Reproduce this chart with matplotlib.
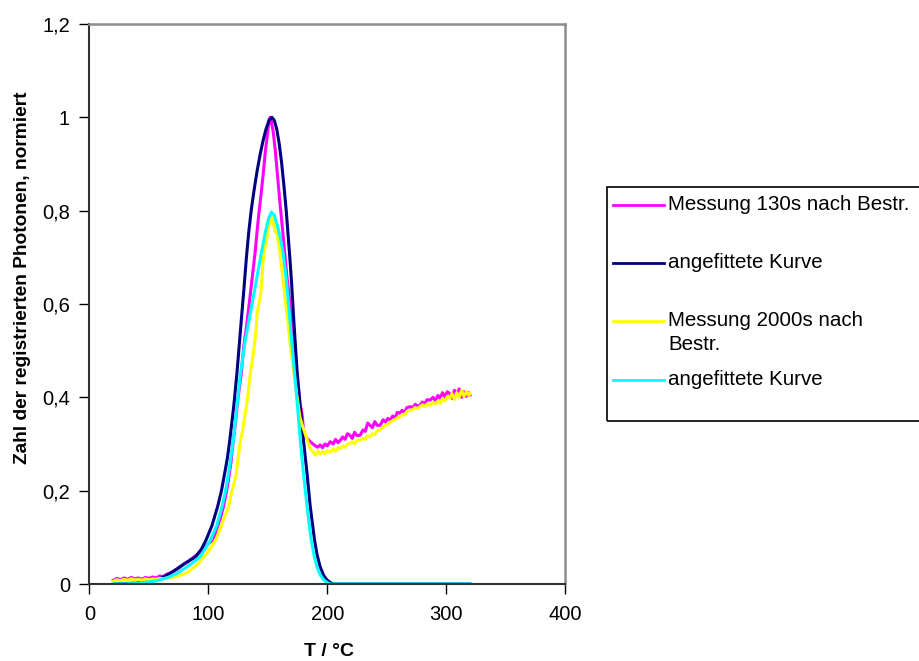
import matplotlib
matplotlib.use("Agg")
import matplotlib.pyplot as plt
from matplotlib.lines import Line2D
from matplotlib.patches import Rectangle
from matplotlib.ticker import FuncFormatter

plt.rcParams['font.family'] = ['Liberation Sans', 'DejaVu Sans']

# measurement 130 s after irradiation (magenta)
t_m130 = [20, 23, 26, 29, 32, 35, 38, 41, 44, 47, 50, 53, 56, 59, 62, 65, 68, 71, 74, 77,
          80, 83, 86, 89, 92, 95, 98, 101, 104.5, 107, 110, 112.7, 115, 117, 119, 121, 123, 125,
          127.7, 129.7, 132, 134.7, 137, 139.5, 141.5, 143.7, 146, 148, 150, 151, 152, 153,
          154.5, 156.3, 158, 160, 162, 164, 166, 168.3, 170, 171.7, 174, 176, 177, 178, 179,
          180, 181.5, 183, 185.7, 188, 190, 192, 194, 196, 198, 200, 202.5, 205, 207, 209,
          211, 213, 215, 217, 219, 221, 223, 225, 227.7, 230, 232, 234, 236, 238, 240, 242,
          244.5, 247, 249, 251, 253, 255, 257, 259, 261, 263, 265, 267, 270, 272, 274, 276,
          278, 280, 282, 284, 286.5, 289, 291, 293, 295, 297, 299, 301, 303, 305, 307, 309,
          311, 313, 315, 317, 319, 320]
v_m130 = [0.008, 0.012, 0.009, 0.013, 0.010, 0.014, 0.011, 0.013, 0.010, 0.014, 0.012, 0.015,
          0.013, 0.017, 0.016, 0.021, 0.024, 0.028, 0.032, 0.038, 0.044, 0.048, 0.054, 0.060,
          0.066, 0.075, 0.082, 0.089, 0.094, 0.118, 0.140, 0.166, 0.195, 0.225, 0.260, 0.308,
          0.350, 0.400, 0.451, 0.508, 0.550, 0.608, 0.660, 0.715, 0.770, 0.822, 0.875, 0.929,
          0.970, 0.995, 1.000, 0.990, 0.970, 0.929, 0.880, 0.822, 0.770, 0.715, 0.660, 0.608,
          0.550, 0.508, 0.451, 0.410, 0.385, 0.375, 0.360, 0.330, 0.318, 0.312, 0.305, 0.300,
          0.296, 0.293, 0.298, 0.292, 0.300, 0.296, 0.305, 0.300, 0.310, 0.303, 0.308, 0.315,
          0.310, 0.322, 0.319, 0.312, 0.325, 0.318, 0.319, 0.330, 0.327, 0.345, 0.340, 0.335,
          0.348, 0.340, 0.340, 0.352, 0.347, 0.355, 0.351, 0.360, 0.356, 0.368, 0.366, 0.372,
          0.368, 0.378, 0.380, 0.377, 0.385, 0.381, 0.383, 0.390, 0.386, 0.395, 0.394, 0.400,
          0.392, 0.404, 0.398, 0.410, 0.400, 0.412, 0.408, 0.398, 0.415, 0.405, 0.418, 0.400,
          0.412, 0.402, 0.410, 0.405]

# fitted curve for 130 s (navy)
t_fit130 = [20, 40, 50, 60, 68, 75, 82, 89, 94, 98, 103, 107.8, 111, 113.7, 116, 118, 121.3,
            124, 126.3, 128, 130, 132, 134, 136, 138.5, 141, 143.5, 146, 148.5, 151, 153.5,
            155.5, 157.5, 159.5, 161.5, 163.5, 165.5, 167, 168.5, 170, 171.5, 173, 174.5,
            177.3, 180, 183, 185.7, 189.3, 191.5, 194, 197, 199.7, 202, 205, 320]
v_fit130 = [0.0, 0.002, 0.005, 0.012, 0.023, 0.035, 0.047, 0.058, 0.074, 0.094, 0.125, 0.166,
            0.200, 0.237, 0.270, 0.308, 0.380, 0.451, 0.522, 0.575, 0.635, 0.700, 0.755,
            0.800, 0.845, 0.885, 0.920, 0.950, 0.975, 0.993, 1.000, 0.993, 0.975, 0.945,
            0.905, 0.855, 0.800, 0.750, 0.700, 0.645, 0.580, 0.520, 0.460, 0.380, 0.308,
            0.237, 0.166, 0.094, 0.062, 0.037, 0.018, 0.009, 0.004, 0.0, 0.0]

# measurement 2000 s after irradiation (yellow)
t_m2000 = [20, 23, 26, 29, 32, 35, 38, 41, 44, 47, 50, 53, 56, 59, 62, 65, 68, 71, 73.7, 77,
           80, 83, 85, 88, 91, 93, 96, 99, 102, 104, 106, 109, 111, 113, 115, 117, 119, 121,
           123.5, 125, 127, 129, 130, 132, 133.5, 135.3, 137, 138.5, 140, 141, 143, 144, 145,
           146, 147, 148.5, 150, 151, 152, 153, 154, 155, 156, 157, 160, 162, 164.7, 167, 169,
           171, 173, 175, 177, 179, 181, 183, 185.7, 188, 190, 192, 194, 196, 198, 200, 202.5,
           205, 207, 209, 211, 213, 215, 217, 219, 221, 223, 225, 227.7, 230, 232, 234, 236,
           238, 240, 242, 244.5, 247, 249, 251, 253, 255, 257, 259, 261, 263, 265, 267, 270,
           272, 274, 276, 278, 280, 282, 284, 286.5, 289, 291, 293, 295, 297, 299, 301, 303,
           305, 307, 309, 311, 313, 315, 317, 319, 320]
v_m2000 = [0.006, 0.009, 0.007, 0.010, 0.008, 0.011, 0.009, 0.010, 0.008, 0.011, 0.009, 0.011,
           0.010, 0.012, 0.011, 0.013, 0.014, 0.015, 0.016, 0.019, 0.022, 0.026, 0.030, 0.036,
           0.042, 0.048, 0.058, 0.066, 0.078, 0.086, 0.094, 0.112, 0.125, 0.140, 0.152, 0.166,
           0.190, 0.210, 0.237, 0.270, 0.308, 0.330, 0.350, 0.380, 0.410, 0.451, 0.480, 0.508,
           0.540, 0.580, 0.608, 0.620, 0.651, 0.690, 0.715, 0.730, 0.751, 0.770, 0.775, 0.785,
           0.780, 0.770, 0.755, 0.760, 0.715, 0.670, 0.608, 0.560, 0.508, 0.470, 0.430, 0.394,
           0.358, 0.340, 0.325, 0.310, 0.290, 0.283, 0.276, 0.285, 0.278, 0.284, 0.279, 0.286,
           0.282, 0.290, 0.284, 0.292, 0.290, 0.296, 0.293, 0.300, 0.301, 0.305, 0.300, 0.308,
           0.308, 0.312, 0.310, 0.318, 0.315, 0.322, 0.320, 0.328, 0.330, 0.336, 0.340, 0.342,
           0.347, 0.350, 0.352, 0.356, 0.358, 0.363, 0.362, 0.370, 0.372, 0.374, 0.378, 0.376,
           0.380, 0.384, 0.380, 0.386, 0.383, 0.390, 0.386, 0.392, 0.387, 0.398, 0.392, 0.402,
           0.398, 0.408, 0.395, 0.410, 0.400, 0.415, 0.402, 0.412, 0.404, 0.408]

# fitted curve for 2000 s (cyan)
t_fit2000 = [20, 40, 55, 65, 73.7, 85, 93, 101.7, 107, 111.5, 114.5, 117, 121, 124, 127, 131,
             134.5, 138, 141.5, 145, 148, 150.5, 153, 155.5, 158, 160.5, 162.7, 165, 167,
             170.3, 172.5, 175, 177.3, 180, 183, 186.5, 189, 191.3, 194, 197, 200, 202.5, 320]
v_fit2000 = [0.0, 0.001, 0.006, 0.013, 0.023, 0.042, 0.058, 0.094, 0.125, 0.166, 0.200,
             0.237, 0.308, 0.380, 0.451, 0.522, 0.570, 0.617, 0.667, 0.715, 0.755, 0.782,
             0.797, 0.790, 0.768, 0.742, 0.712, 0.665, 0.612, 0.515, 0.451, 0.380, 0.308,
             0.237, 0.166, 0.094, 0.060, 0.037, 0.020, 0.009, 0.003, 0.0, 0.0]

labels = ['Messung 130s nach Bestr.', 'angefittete Kurve',
          'Messung 2000s nach\nBestr.', 'angefittete Kurve']
colors = ['#FF00FF', '#000080', '#FFFF00', '#00FFFF']

fig = plt.figure(figsize=(9.2, 6.61), dpi=100)
ax = fig.add_axes([89.5 / 920, 77 / 661, 475.5 / 920, 560 / 661])

series = [(t_m130, v_m130), (t_fit130, v_fit130), (t_m2000, v_m2000), (t_fit2000, v_fit2000)]
for (t, v), c in zip(series, colors):
    ax.plot(t, v, color=c, lw=2.2, solid_joinstyle='round')

ax.set_xlim(0, 400)
ax.set_ylim(0, 1.2)
ax.set_xticks([0, 100, 200, 300, 400])
ax.set_yticks([0, 0.2, 0.4, 0.6, 0.8, 1.0, 1.2])
ax.yaxis.set_major_formatter(FuncFormatter(lambda y, p: ('%g' % round(y, 1)).replace('.', ',')))
ax.tick_params(direction='out', length=7, width=1, labelsize=14.5, colors='black')
ax.tick_params(axis='x', pad=8)
ax.tick_params(axis='y', pad=7)
for s in ['left', 'bottom']:
    ax.spines[s].set_color('#333333')
    ax.spines[s].set_linewidth(1.5)
for s in ['top', 'right']:
    ax.spines[s].set_color('#8c8c8c')
    ax.spines[s].set_linewidth(1.8)

fig.text(329 / 920, 1 - 652 / 661, 'T / °C', ha='center', va='center',
         fontsize=14, fontweight='bold')
fig.text(23 / 920, 1 - 278 / 661, 'Zahl der registrierten Photonen, normiert',
         ha='center', va='center', rotation=90, fontsize=13.8, fontweight='bold')

# legend box drawn by hand to mimic the spreadsheet layout
fig.add_artist(Rectangle((607 / 920, 1 - 421 / 661), 330 / 920, 234 / 661,
                         transform=fig.transFigure, fill=False, edgecolor='black', lw=1.2))
rows = [205, 263, 321, 380]
for lab, c, y in zip(labels, colors, rows):
    yf = 1 - y / 661
    fig.add_artist(Line2D([613 / 920, 664 / 920], [yf, yf], transform=fig.transFigure,
                          color=c, lw=2))
    fig.text(668 / 920, yf + 10 / 661, lab, ha='left', va='top', fontsize=14.8,
             linespacing=1.3)

fig.savefig('out.png', dpi=100)
